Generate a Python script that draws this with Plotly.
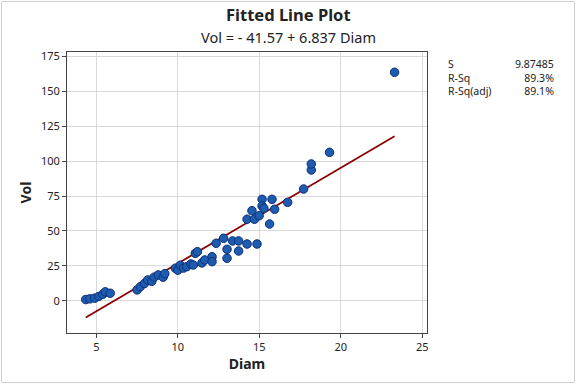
import numpy as np
import plotly.graph_objects as go

diam = [4.35, 4.6, 4.9, 5.15, 5.4, 5.55, 5.85, 7.5, 7.7, 7.95, 8.15, 8.4, 8.55, 8.8,
        9.1, 9.2, 9.85, 10.0, 10.15, 10.35, 10.55, 10.8, 10.95, 11.07, 11.2, 11.48,
        11.65, 12.1, 12.1, 12.35, 12.81, 13.02, 13.02, 13.36, 13.73, 13.73, 14.25,
        14.86, 14.25, 14.55, 14.7, 14.99, 15.17, 15.17, 15.28, 15.63, 15.78, 15.94,
        16.74, 17.72, 18.19, 18.19, 19.31, 23.3]
vol = [1.0, 1.5, 2.0, 3.2, 4.8, 6.5, 5.5, 7.9, 10.2, 12.5, 15.0, 14.0, 17.0, 18.6,
       17.0, 19.5, 23.4, 22.0, 25.5, 23.5, 24.5, 26.4, 25.7, 34.0, 35.2, 27.2,
       29.3, 31.6, 28.1, 41.2, 44.8, 30.5, 36.9, 42.9, 42.9, 35.7, 40.7,
       40.7, 58.4, 64.5, 58.4, 60.9, 72.6, 67.9, 66.2, 55.0, 72.6, 65.5,
       70.5, 80.0, 93.6, 97.9, 106.2, 163.4]
intercept = -41.57
slope = 6.837
stat_labels = ["S", "R-Sq", "R-Sq(adj)"]
stat_values = ["9.87485", "89.3%", "89.1%"]

xs = np.linspace(min(diam), max(diam), 50)
ys = intercept + slope * xs

FONT = "Noto Sans"
fig = go.Figure()
fig.add_trace(go.Scatter(x=xs, y=ys, mode="lines",
                         line=dict(color="#8b0000", width=1.8), showlegend=False))
fig.add_trace(go.Scatter(x=diam, y=vol, mode="markers",
                         marker=dict(size=8.5, color="#1e5cb0",
                                     line=dict(color="#0b2f78", width=1)),
                         showlegend=False))

axis_common = dict(showline=True, linecolor="#444444", linewidth=1, mirror=True,
                   showgrid=True, gridcolor="#d9d9d9", gridwidth=1, zeroline=False,
                   ticks="outside", ticklen=4, tickcolor="#444444",
                   tickfont=dict(family=FONT, size=11, color="#222222"))
fig.update_xaxes(range=[3.2, 25.29], tickvals=[5, 10, 15, 20, 25],
                 title=dict(text="<b>Diam</b>", font=dict(family=FONT, size=14, color="#222222"),
                            standoff=4), **axis_common)
fig.update_yaxes(range=[-22.9, 177.9], tickvals=[0, 25, 50, 75, 100, 125, 150, 175],
                 title=dict(text="<b>Vol</b>", font=dict(family=FONT, size=14, color="#222222"),
                            standoff=6), **axis_common)

cx = (288 - 67) / 360
fig.add_annotation(text="<b>Fitted Line Plot</b>", xref="paper", yref="paper",
                   x=cx, y=(333 - 27) / 281, showarrow=False,
                   font=dict(family=FONT, size=16.5, color="#222222"),
                   xanchor="center", yanchor="bottom", borderpad=0)
fig.add_annotation(text=f"Vol = - {abs(intercept):.2f} + {slope:.3f} Diam",
                   xref="paper", yref="paper",
                   x=cx, y=(333 - 26) / 281, showarrow=False,
                   font=dict(family=FONT, size=14.5, color="#222222"),
                   xanchor="center", yanchor="top", borderpad=0)

fig.add_annotation(text="<br>".join(stat_labels),
                   xref="paper", yref="paper",
                   x=(446 - 67) / 360, y=(333 - 55) / 281, showarrow=False,
                   xanchor="left", yanchor="top", align="left",
                   font=dict(family=FONT, size=10.5, color="#222222"))
fig.add_annotation(text="<br>".join(stat_values),
                   xref="paper", yref="paper",
                   x=(556 - 67) / 360, y=(333 - 55) / 281, showarrow=False,
                   xanchor="right", yanchor="top", align="right",
                   font=dict(family=FONT, size=10.5, color="#222222"))

fig.add_shape(type="rect", xref="paper", yref="paper",
              x0=(1.5 - 67) / 360, x1=(574.5 - 67) / 360, y0=(333 - 382.5) / 281, y1=(333 - 1.5) / 281,
              line=dict(color="#d0d0d0", width=1), fillcolor="rgba(0,0,0,0)", layer="below")

fig.update_layout(width=576, height=384, margin=dict(l=67, r=149, t=52, b=51),
                  plot_bgcolor="white", paper_bgcolor="white",
                  font=dict(family=FONT))
fig.write_html("out.html", config={"displayModeBar": False},
               post_script="document.body.style.margin='0';document.body.style.overflow='hidden';")
